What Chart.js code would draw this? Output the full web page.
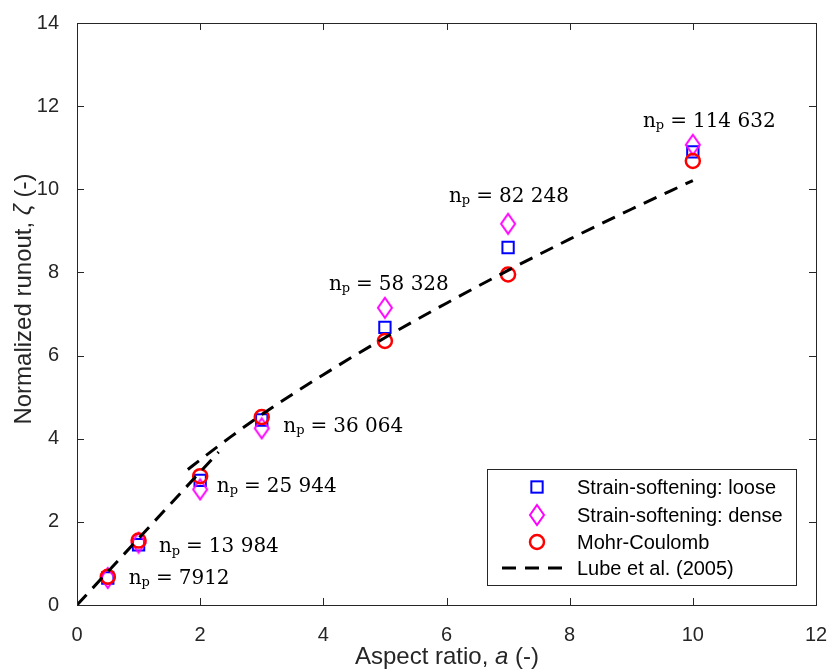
<!DOCTYPE html>
<html>
<head>
<meta charset="utf-8">
<script src="https://cdn.jsdelivr.net/npm/chart.js@4/dist/chart.umd.min.js"></script>
<style>
  html, body { margin: 0; padding: 0; background: #fff; }
  #wrap { width: 828px; height: 671px; }
</style>
</head>
<body>
<div id="wrap"><canvas id="myChart" width="828" height="671"></canvas></div>
<script>
// aspect ratios of the simulations
const aspectRatios = [0.5, 1, 2, 3, 5, 7, 10];
// normalized runout for each model
const looseRunout = [0.65, 1.45, 3.0, 4.45, 6.68, 8.6, 10.9];
const denseRunout = [0.65, 1.5, 2.78, 4.25, 7.15, 9.17, 11.07];
const mcRunout = [0.68, 1.55, 3.1, 4.52, 6.35, 7.95, 10.68];

// Lube et al. (2005) curve (two branches)
const lubeLowX = [0, 2.3];
const lubeLowY = [0, 3.68];
const lubeHighX = [1.8, 2, 2.5, 3, 4, 5, 6, 7, 8, 9, 10];
const lubeHighY = [3.26, 3.49, 4.05, 4.58, 5.54, 6.43, 7.26, 8.05, 8.80, 9.52, 10.21];

// particle count labels and where they sit (data coords)
const particleLabels = ['7912', '13 984', '25 944', '36 064', '58 328', '82 248', '114 632'];
const labelX = [0.84, 1.33, 2.27, 3.35, 4.09, 6.04, 9.19];
const labelY = [0.63, 1.39, 2.84, 4.28, 7.70, 9.82, 11.62];

const xTicks = [0, 2, 4, 6, 8, 10, 12];
const yTicks = [0, 2, 4, 6, 8, 10, 12, 14];

const axisColor = '#262626';

function toPoints(xs, ys) {
    return xs.map((x, i) => ({ x: x, y: ys[i] }));
}

// tall diamond like the matlab one
function makeDiamond(color) {
    const c = document.createElement('canvas');
    c.width = 18;
    c.height = 24;
    const g = c.getContext('2d');
    g.strokeStyle = color;
    g.lineWidth = 2;
    g.beginPath();
    g.moveTo(9, 2);
    g.lineTo(16, 12);
    g.lineTo(9, 22);
    g.lineTo(2, 12);
    g.closePath();
    g.stroke();
    return c;
}
const diamond = makeDiamond('#ff00ff');

const datasets = [
    {
        label: 'Strain-softening: loose',
        data: toPoints(aspectRatios, looseRunout),
        pointStyle: 'rect',
        pointRadius: 8,
        borderColor: '#0000ff',
        backgroundColor: 'rgba(0,0,0,0)',
        borderWidth: 2,
        showLine: false,
        order: 4
    },
    {
        label: 'Strain-softening: dense',
        data: toPoints(aspectRatios, denseRunout),
        pointStyle: diamond,
        pointRadius: 9,
        borderColor: '#ff00ff',
        backgroundColor: 'rgba(0,0,0,0)',
        borderWidth: 2,
        showLine: false,
        order: 3
    },
    {
        label: 'Mohr-Coulomb',
        data: toPoints(aspectRatios, mcRunout),
        pointStyle: 'circle',
        pointRadius: 7,
        borderColor: '#ff0000',
        backgroundColor: 'rgba(0,0,0,0)',
        borderWidth: 2.5,
        showLine: false,
        order: 2
    },
    {
        label: 'Lube et al. (2005)',
        data: toPoints(lubeLowX, lubeLowY),
        showLine: true,
        pointRadius: 0,
        borderColor: '#000',
        borderWidth: 3,
        borderDash: [14, 9],
        tension: 0,
        order: 1
    },
    {
        label: 'Lube et al. (2005) high',
        data: toPoints(lubeHighX, lubeHighY),
        showLine: true,
        pointRadius: 0,
        borderColor: '#000',
        borderWidth: 3,
        borderDash: [14, 9],
        cubicInterpolationMode: 'monotone',
        order: 0
    }
];

function drawMarker(ctx, ds, x, y) {
    ctx.save();
    ctx.strokeStyle = ds.borderColor;
    ctx.lineWidth = ds.borderWidth;
    if (ds.pointStyle instanceof HTMLCanvasElement) {
        ctx.drawImage(ds.pointStyle, x - ds.pointStyle.width / 2, y - ds.pointStyle.height / 2);
    } else if (ds.pointStyle === 'rect') {
        const s = ds.pointRadius * Math.SQRT1_2;
        ctx.strokeRect(x - s, y - s, 2 * s, 2 * s);
    } else {
        ctx.beginPath();
        ctx.arc(x, y, ds.pointRadius, 0, Math.PI * 2);
        ctx.stroke();
    }
    ctx.restore();
}

// box, inward ticks, legend, annotations and axis titles
const decorations = {
    id: 'decorations',
    afterDraw(chart) {
        const ctx = chart.ctx;
        const a = chart.chartArea;
        const xs = chart.scales.x;
        const ys = chart.scales.y;
        ctx.save();

        // box
        ctx.strokeStyle = axisColor;
        ctx.lineWidth = 1;
        ctx.strokeRect(Math.round(a.left) + 0.5, Math.round(a.top) + 0.5,
            Math.round(a.right - a.left), Math.round(a.bottom - a.top));

        // inward ticks
        const tl = 7;
        ctx.beginPath();
        xTicks.forEach(v => {
            const px = Math.round(xs.getPixelForValue(v)) + 0.5;
            ctx.moveTo(px, a.bottom); ctx.lineTo(px, a.bottom - tl);
            ctx.moveTo(px, a.top); ctx.lineTo(px, a.top + tl);
        });
        yTicks.forEach(v => {
            const py = Math.round(ys.getPixelForValue(v)) + 0.5;
            ctx.moveTo(a.left, py); ctx.lineTo(a.left + tl, py);
            ctx.moveTo(a.right, py); ctx.lineTo(a.right - tl, py);
        });
        ctx.stroke();

        // particle count annotations
        ctx.fillStyle = '#000';
        ctx.textBaseline = 'middle';
        ctx.textAlign = 'left';
        particleLabels.forEach((txt, i) => {
            let px = xs.getPixelForValue(labelX[i]);
            const py = ys.getPixelForValue(labelY[i]);
            ctx.font = '20px "DejaVu Serif"';
            ctx.fillText('n', px, py);
            px += ctx.measureText('n').width;
            ctx.font = '13px "DejaVu Serif"';
            ctx.fillText('p', px, py + 4);
            px += ctx.measureText('p').width + 6;
            ctx.font = '20px "DejaVu Serif"';
            ctx.fillText('=', px, py);
            px += ctx.measureText('=').width + 6;
            ctx.fillText(txt, px, py);
        });

        // legend
        const lx = 487, ly = 469, lw = 309, lh = 116;
        ctx.fillStyle = '#fff';
        ctx.fillRect(lx, ly, lw, lh);
        ctx.strokeStyle = axisColor;
        ctx.lineWidth = 1;
        ctx.strokeRect(lx + 0.5, ly + 0.5, lw, lh);
        const rows = [487, 515, 542, 568];
        const entries = datasets.slice(0, 4);
        ctx.font = '20px "Liberation Sans", Arial, sans-serif';
        entries.forEach((ds, i) => {
            const ry = rows[i];
            if (ds.showLine) {
                ctx.save();
                ctx.strokeStyle = '#000';
                ctx.lineWidth = 3;
                ctx.setLineDash([14, 9]);
                ctx.beginPath();
                ctx.moveTo(502, ry);
                ctx.lineTo(570, ry);
                ctx.stroke();
                ctx.restore();
            } else {
                drawMarker(ctx, ds, 537, ry);
            }
            ctx.fillStyle = '#000';
            ctx.textBaseline = 'middle';
            ctx.fillText(ds.label, 577, ry + 1);
        });

        // axis titles
        ctx.fillStyle = axisColor;
        ctx.textBaseline = 'middle';
        ctx.textAlign = 'left';
        const titleFont = '24px "Liberation Sans", Arial, sans-serif';
        const italicFont = 'italic 24px "Liberation Sans", Arial, sans-serif';
        function mixed(parts, cx, cy) {
            let total = 0;
            parts.forEach(p => { ctx.font = p[1] ? italicFont : titleFont; total += ctx.measureText(p[0]).width; });
            let x = cx - total / 2;
            parts.forEach(p => {
                ctx.font = p[1] ? italicFont : titleFont;
                ctx.fillText(p[0], x, cy);
                x += ctx.measureText(p[0]).width;
            });
        }
        mixed([['Aspect ratio, ', false], ['a', true], [' (-)', false]], 447, 657);
        ctx.save();
        ctx.translate(24, 299);
        ctx.rotate(-Math.PI / 2);
        mixed([['Normalized runout, ', false], ['\u03B6', true], [' (-)', false]], 0, 0);
        ctx.restore();

        ctx.restore();
    }
};

const ctx = document.getElementById('myChart').getContext('2d');
const myChart = new Chart(ctx, {
    type: 'scatter',
    data: { datasets: datasets },
    options: {
        responsive: false,
        animation: false,
        events: [],
        layout: { padding: { top: 23, right: 0, left: 0, bottom: 0 } },
        scales: {
            x: {
                type: 'linear',
                min: 0,
                max: 12,
                afterFit: scale => {
                    scale.height = 66;
                    scale.paddingLeft = 0;
                    scale.paddingRight = 12;
                },
                afterBuildTicks: scale => { scale.ticks = xTicks.map(v => ({ value: v })); },
                grid: { display: false },
                border: { display: false },
                ticks: {
                    color: axisColor,
                    padding: 10,
                    font: { family: '"Liberation Sans", Arial, sans-serif', size: 20 }
                }
            },
            y: {
                type: 'linear',
                min: 0,
                max: 14,
                afterFit: scale => {
                    scale.width = 77;
                    scale.paddingTop = 0;
                    scale.paddingBottom = 0;
                },
                afterBuildTicks: scale => { scale.ticks = yTicks.map(v => ({ value: v })); },
                grid: { display: false },
                border: { display: false },
                ticks: {
                    color: axisColor,
                    padding: 10,
                    font: { family: '"Liberation Sans", Arial, sans-serif', size: 20 }
                }
            }
        },
        plugins: {
            legend: { display: false },
            tooltip: { enabled: false }
        }
    },
    plugins: [decorations]
});
</script>
</body>
</html>
